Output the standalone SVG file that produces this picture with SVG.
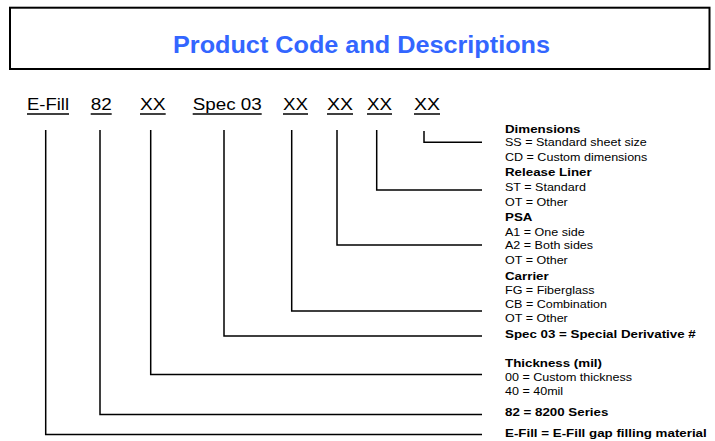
<svg xmlns="http://www.w3.org/2000/svg" width="715" height="441" viewBox="0 0 715 441">
<style>
.code{font-family:"Liberation Sans",Arial,sans-serif;font-size:16px;fill:#000}
.ul{stroke:#000;stroke-width:1.5}
.conn{fill:none;stroke:#000;stroke-width:1.5}
.d{font-family:"Liberation Sans",Arial,sans-serif;font-size:11px;fill:#000}
.h{font-family:"Liberation Sans",Arial,sans-serif;font-size:11.7px;font-weight:bold;fill:#000}
</style>
<rect width="715" height="441" fill="#fff"/>
<g id="title">
<rect x="10" y="7.7" width="699.5" height="61.3" fill="#fff" stroke="#000" stroke-width="2"/>
<text x="173" y="53.3" textLength="377" lengthAdjust="spacingAndGlyphs" style="font-family:'Liberation Sans',Arial,sans-serif;font-size:23px;font-weight:bold;fill:#3366FF">Product Code and Descriptions</text>
</g>
<g id="code-efill"><text class="code" x="27" y="110" textLength="42" lengthAdjust="spacingAndGlyphs">E-Fill</text><line class="ul" x1="27" y1="114" x2="69" y2="114"/></g>
<g id="code-82"><text class="code" x="90.7" y="110" textLength="21" lengthAdjust="spacingAndGlyphs">82</text><line class="ul" x1="90.7" y1="114" x2="111.7" y2="114"/></g>
<g id="code-thickness"><text class="code" x="140" y="110" textLength="25.7" lengthAdjust="spacingAndGlyphs">XX</text><line class="ul" x1="140" y1="114" x2="165.7" y2="114"/></g>
<g id="code-spec"><text class="code" x="192.7" y="110" textLength="69" lengthAdjust="spacingAndGlyphs">Spec 03</text><line class="ul" x1="192.7" y1="114" x2="261.7" y2="114"/></g>
<g id="code-carrier"><text class="code" x="283" y="110" textLength="25" lengthAdjust="spacingAndGlyphs">XX</text><line class="ul" x1="283" y1="114" x2="308" y2="114"/></g>
<g id="code-psa"><text class="code" x="327" y="110" textLength="26" lengthAdjust="spacingAndGlyphs">XX</text><line class="ul" x1="327" y1="114" x2="353" y2="114"/></g>
<g id="code-liner"><text class="code" x="367" y="110" textLength="25" lengthAdjust="spacingAndGlyphs">XX</text><line class="ul" x1="367" y1="114" x2="392" y2="114"/></g>
<g id="code-dimensions"><text class="code" x="414" y="110" textLength="26" lengthAdjust="spacingAndGlyphs">XX</text><line class="ul" x1="414" y1="114" x2="440" y2="114"/></g>
<g id="connectors">
<polyline class="conn" points="45.7,130 45.7,434.5 482,434.5"/>
<polyline class="conn" points="100,130 100,414.5 482,414.5"/>
<polyline class="conn" points="150.7,130 150.7,374.5 482,374.5"/>
<polyline class="conn" points="224,130 224,336 482,336"/>
<polyline class="conn" points="291.7,130 291.7,311 482,311"/>
<polyline class="conn" points="337,130 337,245 482,245"/>
<polyline class="conn" points="376.7,130 376.7,190 482,190"/>
<polyline class="conn" points="424,131 424,142.3 482,142.3"/>
</g>
<g transform="translate(505 0) scale(1.14 1)">
<g id="desc-dimensions">
<text class="h" x="0" y="133">Dimensions</text>
<text class="d" x="0" y="146.5">SS = Standard sheet size</text>
<text class="d" x="0" y="161">CD = Custom dimensions</text>
</g>
<g id="desc-liner">
<text class="h" x="0" y="176.5">Release Liner</text>
<text class="d" x="0" y="191.5">ST = Standard</text>
<text class="d" x="0" y="206">OT = Other</text>
</g>
<g id="desc-psa">
<text class="h" x="0" y="221.5">PSA</text>
<text class="d" x="0" y="236">A1 = One side</text>
<text class="d" x="0" y="249.5">A2 = Both sides</text>
<text class="d" x="0" y="264">OT = Other</text>
</g>
<g id="desc-carrier">
<text class="h" x="0" y="280">Carrier</text>
<text class="d" x="0" y="294">FG = Fiberglass</text>
<text class="d" x="0" y="308">CB = Combination</text>
<text class="d" x="0" y="322.5">OT = Other</text>
</g>
<g id="desc-spec"><text class="h" x="0" y="338">Spec 03 = Special Derivative #</text></g>
<g id="desc-thickness">
<text class="h" x="0" y="367">Thickness (mil)</text>
<text class="d" x="0" y="381.5">00 = Custom thickness</text>
<text class="d" x="0" y="395">40 = 40mil</text>
</g>
<g id="desc-82"><text class="h" x="0" y="416.5">82 = 8200 Series</text></g>
<g id="desc-efill"><text class="h" x="0" y="437">E-Fill = E-Fill gap filling material</text></g>
</g>
</svg>
